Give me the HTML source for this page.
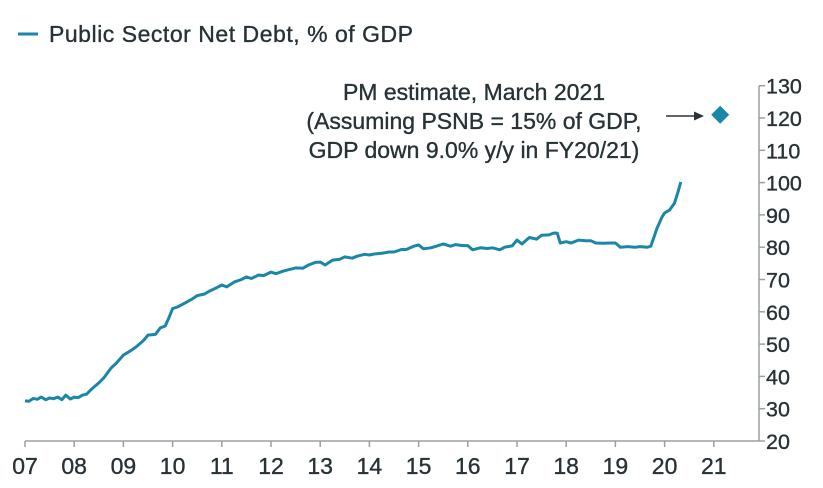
<!DOCTYPE html>
<html><head><meta charset="utf-8"><style>
body{margin:0;background:#fff;width:823px;height:483px;overflow:hidden;font-family:"Liberation Sans",sans-serif}
svg text{font-family:"Liberation Sans",sans-serif;fill:#263236;stroke:#263236;stroke-width:0.35}
</style></head><body>
<svg width="823" height="483">
<g>
<line x1="18" y1="34" x2="38" y2="34" stroke="#1a86a8" stroke-width="3"/>
<text x="49" y="42" font-size="23" textLength="364">Public Sector Net Debt, % of GDP</text>
</g>
<g font-size="23" text-anchor="middle">
<text x="474" y="100">PM estimate, March 2021</text>
<text x="474" y="129">(Assuming PSNB = 15% of GDP,</text>
<text x="474" y="158">GDP down 9.0% y/y in FY20/21)</text>
</g>
<g>
<line x1="666" y1="116" x2="696" y2="116" stroke="#2a3438" stroke-width="1.5"/>
<polygon points="704,116 694,111.5 694,120.5" fill="#2a3438"/>
</g>
<g id="axes"></g>
<g id="plot"></g>
</svg>
<script>
const years=[2007,2007.08,2007.17,2007.25,2007.33,2007.42,2007.5,2007.58,2007.67,2007.75,2007.83,2007.92,2008,2008.08,2008.17,2008.25,2008.35,2008.5,2008.6,2008.75,2008.85,2009,2009.1,2009.25,2009.4,2009.5,2009.65,2009.75,2009.85,2009.92,2010,2010.1,2010.25,2010.4,2010.5,2010.65,2010.75,2010.9,2011,2011.1,2011.25,2011.4,2011.5,2011.6,2011.75,2011.85,2012,2012.1,2012.25,2012.4,2012.5,2012.65,2012.75,2012.9,2013,2013.1,2013.25,2013.4,2013.5,2013.65,2013.75,2013.9,2014,2014.1,2014.25,2014.4,2014.5,2014.65,2014.75,2014.9,2015,2015.1,2015.25,2015.4,2015.5,2015.65,2015.75,2015.9,2016,2016.1,2016.25,2016.4,2016.5,2016.65,2016.75,2016.9,2017,2017.1,2017.25,2017.4,2017.5,2017.65,2017.75,2017.82,2017.88,2018,2018.1,2018.25,2018.4,2018.5,2018.6,2018.75,2018.9,2019,2019.1,2019.25,2019.4,2019.5,2019.65,2019.72,2019.85,2019.95,2020,2020.1,2020.2,2020.27,2020.33];
const debt=[32.4,32.3,33.2,32.9,33.6,32.8,33.3,33.1,33.6,32.8,34.2,33.0,33.6,33.4,34.2,34.5,36,38,39.5,42.6,44,46.6,47.5,49,51,52.8,53,55,55.6,58,61,61.5,62.7,64,65,65.5,66.4,67.5,68.3,67.7,69.2,70,70.8,70.3,71.4,71.2,72.3,71.8,72.6,73.2,73.6,73.5,74.4,75.3,75.4,74.5,76,76.3,77,76.6,77.2,77.8,77.6,77.9,78.1,78.5,78.5,79.3,79.3,80.3,80.7,79.5,79.8,80.5,81,80.3,80.8,80.5,80.5,79.2,79.8,79.6,79.8,79.2,80,80.4,82.2,81,83,82.5,83.7,83.8,84.4,84.3,81.3,81.7,81.3,82.2,82,82,81.3,81.2,81.3,81.3,80,80.2,80,80.2,80,80.3,86,89.4,90.6,91.5,93.6,97,100.2];
const estYear=[2021.13], estVal=[121];
const yTicks=[20,30,40,50,60,70,80,90,100,110,120,130];
const xTickYears=[2007,2008,2009,2010,2011,2012,2013,2014,2015,2016,2017,2018,2019,2020,2021];
const xLabels=["07","08","09","10","11","12","13","14","15","16","17","18","19","20","21"];
const X=y=>25+(y-2007)*49.2, Y=v=>441-(v-20)*3.23;
const NS="http://www.w3.org/2000/svg";
const ax=document.getElementById('axes'), pl=document.getElementById('plot');
function mk(tag,attrs,parent){const e=document.createElementNS(NS,tag);for(const k in attrs)e.setAttribute(k,attrs[k]);parent.appendChild(e);return e;}
const xa=mk('line',{x1:25,y1:441,x2:759,y2:441,stroke:'#9aa0a2','stroke-width':1.5},ax);


const ya=mk('line',{x1:759,y1:Y(130),x2:759,y2:441,stroke:'#9aa0a2','stroke-width':1.5},ax);


yTicks.forEach(v=>{
 mk('line',{x1:759,y1:Y(v),x2:765,y2:Y(v),stroke:'#9aa0a2','stroke-width':1.5},ax);
 const t=mk('text',{x:766,y:Y(v)+8,'font-size':21.5},ax);t.textContent=v;
 
 
});
xTickYears.forEach((yr,i)=>{
 mk('line',{x1:X(yr),y1:441,x2:X(yr),y2:447,stroke:'#9aa0a2','stroke-width':1.5},ax);
 const t=mk('text',{x:X(yr),y:474,'font-size':23,'text-anchor':'middle'},ax);t.textContent=xLabels[i];
 
 
});
const d=years.map((yr,i)=>(i?'L':'M')+X(yr).toFixed(1)+','+Y(debt[i]).toFixed(1)).join('');
const p=mk('path',{d:d,fill:'none',stroke:'#1a86a8','stroke-width':3,'stroke-linejoin':'round'},pl);


estYear.forEach((yr,i)=>{
 const cx=X(yr),cy=Y(estVal[i]);
 const m=mk('polygon',{points:`${cx},${cy-9} ${cx+9},${cy} ${cx},${cy+9} ${cx-9},${cy}`,fill:'#1a86a8'},pl);
 
 
});
</script>
</body></html>
